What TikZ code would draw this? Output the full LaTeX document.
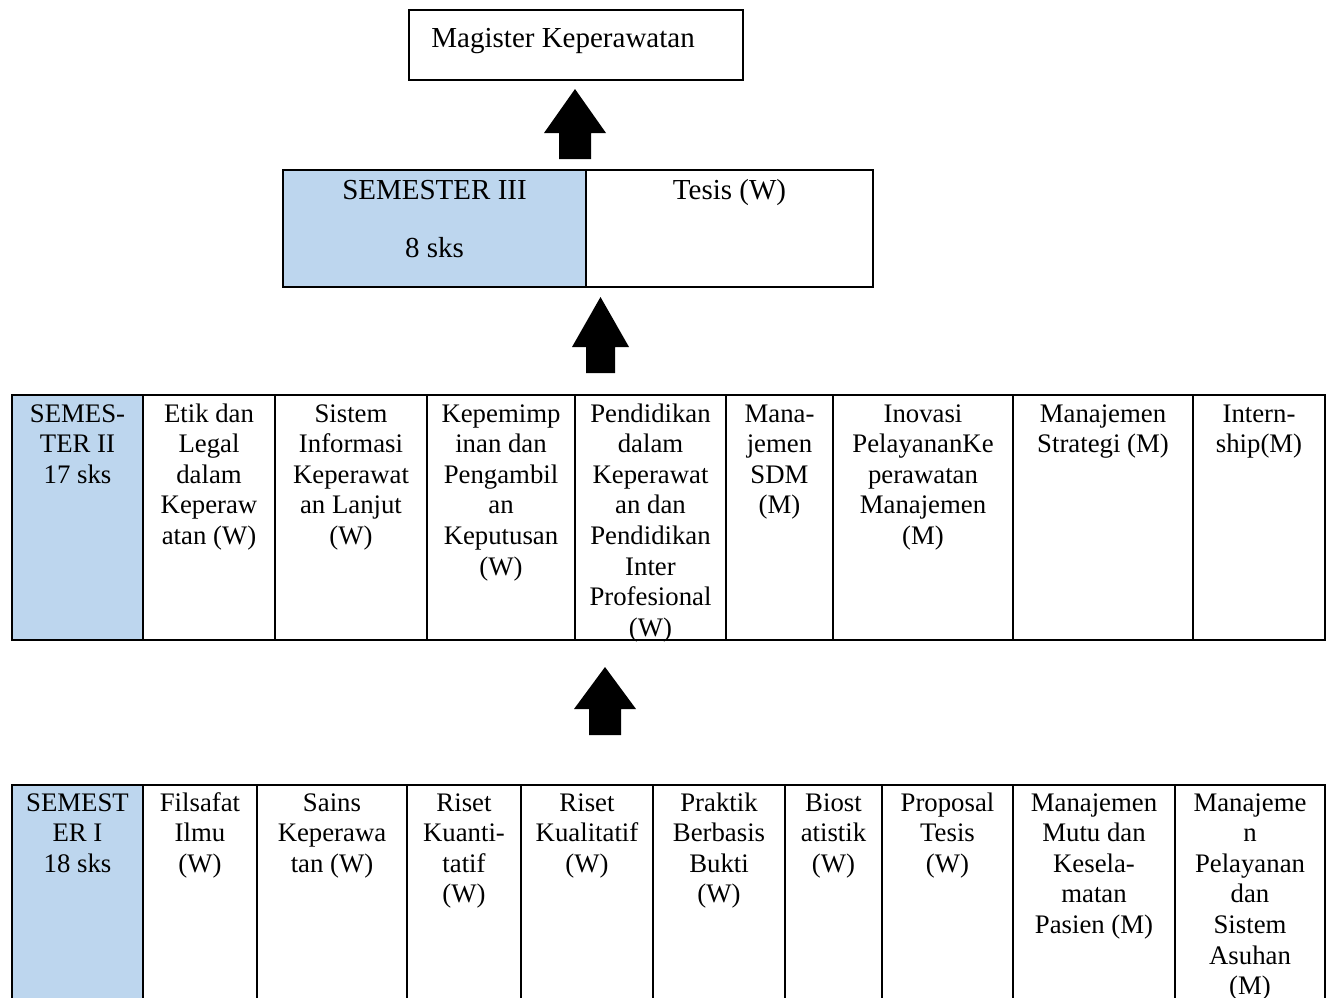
\documentclass[tikz,border=0pt]{standalone}
\usepackage{fontspec}
\setmainfont{Liberation Serif}
\definecolor{semblue}{RGB}{189,214,238}

% centred multi-line cell text; the node's baseline is the first line's baseline
\newcommand\celltext[1]{\parbox[t]{140pt}{\centering\fontsize{12}{13.72}\selectfont #1}}

\begin{document}
\begin{tikzpicture}[x=0.44827pt,y=-0.44827pt,
  grid/.style={line width=0.9pt},
  txt/.style={anchor=base,inner sep=0pt,font=\fontsize{12}{13.8}\selectfont},
  bigtxt/.style={anchor=base,inner sep=0pt,font=\fontsize{13}{15}\selectfont},
  blockarrow/.style={fill=black}]
\useasboundingbox (0,0) rectangle (1328,997);

% ---------------- top: degree box ----------------
\draw[line width=0.75pt] (409,10) rectangle (743,80);
\node[bigtxt,anchor=base west] (degree) at (431,47) {Magister Keperawatan};

% ---------------- semester III ----------------
\fill[semblue] (283,170) rectangle (586,287);
\draw[grid] (283,170) rectangle (873,287);
\draw[grid] (586,170) -- (586,287);
\node[bigtxt] (s3head) at (434.5,199) {SEMESTER III};
\node[bigtxt] (s3sks)  at (434.5,257) {8 sks};
\node[bigtxt] (s3tesis) at (729.5,199) {Tesis (W)};

% ---------------- semester II ----------------
\fill[semblue] (12,395) rectangle (143,640);
\draw[grid] (12,395) rectangle (1325,640);
\foreach \x in {143,275,427,575,726,833,1013,1193}
  \draw[grid] (\x,395) -- (\x,640);
\node[txt] (s2c0) at (77.5,422)  {\celltext{SEMES-\\TER II\\17 sks}};
\node[txt] (s2c1) at (209,422)   {\celltext{Etik dan\\Legal\\dalam\\Keperaw\\atan (W)}};
\node[txt] (s2c2) at (351,422)   {\celltext{Sistem\\Informasi\\Keperawat\\an Lanjut\\(W)}};
\node[txt] (s2c3) at (501,422)   {\celltext{Kepemimp\\inan dan\\Pengambil\\an\\Keputusan\\(W)}};
\node[txt] (s2c4) at (650.5,422) {\celltext{Pendidikan\\dalam\\Keperawat\\an dan\\Pendidikan\\Inter\\Profesional\\(W)}};
\node[txt] (s2c5) at (779.5,422) {\celltext{Mana-\\jemen\\SDM\\(M)}};
\node[txt] (s2c6) at (923,422)   {\celltext{Inovasi\\PelayananKe\\perawatan\\Manajemen\\(M)}};
\node[txt] (s2c7) at (1103,422)  {\celltext{Manajemen\\Strategi (M)}};
\node[txt] (s2c8) at (1259,422)  {\celltext{Intern-\\ship(M)}};

% ---------------- semester I (runs off the bottom edge) ----------------
\fill[semblue] (12,785) rectangle (143,1010);
\draw[grid] (12,1010) -- (12,785) -- (1325,785) -- (1325,1010);
\foreach \x in {143,257,407,521,653,785,882,1013,1175}
  \draw[grid] (\x,785) -- (\x,1010);
\node[txt] (s1c0) at (77.5,811)  {\celltext{SEMEST\\ER I\\18 sks}};
\node[txt] (s1c1) at (200,811)   {\celltext{Filsafat\\Ilmu\\(W)}};
\node[txt] (s1c2) at (332,811)   {\celltext{Sains\\Keperawa\\tan (W)}};
\node[txt] (s1c3) at (464,811)   {\celltext{Riset\\Kuanti-\\tatif\\(W)}};
\node[txt] (s1c4) at (587,811)   {\celltext{Riset\\Kualitatif\\(W)}};
\node[txt] (s1c5) at (719,811)   {\celltext{Praktik\\Berbasis\\Bukti\\(W)}};
\node[txt] (s1c6) at (833.5,811) {\celltext{Biost\\atistik\\(W)}};
\node[txt] (s1c7) at (947.5,811) {\celltext{Proposal\\Tesis\\(W)}};
\node[txt] (s1c8) at (1094,811)  {\celltext{Manajemen\\Mutu dan\\Kesela-\\matan\\Pasien (M)}};
\node[txt] (s1c9) at (1250,811)  {\celltext{Manajeme\\n\\Pelayanan\\dan\\Sistem\\Asuhan\\(M)}};

% ---------------- upward block arrows between the levels ----------------
\coordinate (a1tip) at (575,89);
\coordinate (a2tip) at (600.5,297);
\coordinate (a3tip) at (605,667);
% tip -> head corner -> shaft -> tail -> shaft -> head corner
\fill[blockarrow] (a1tip) -- ++(31,44) -- ++(-15,0) -- ++(0,26) -- ++(-32,0)
  -- ++(0,-26) -- ++(-15,0) -- cycle;
\fill[blockarrow] (a2tip) -- ++(28.5,50) -- ++(-14,0) -- ++(0,26) -- ++(-29,0)
  -- ++(0,-26) -- ++(-14,0) -- cycle;
\fill[blockarrow] (a3tip) -- ++(31,42) -- ++(-15,0) -- ++(0,26) -- ++(-32,0)
  -- ++(0,-26) -- ++(-15,0) -- cycle;
\end{tikzpicture}
\end{document}
